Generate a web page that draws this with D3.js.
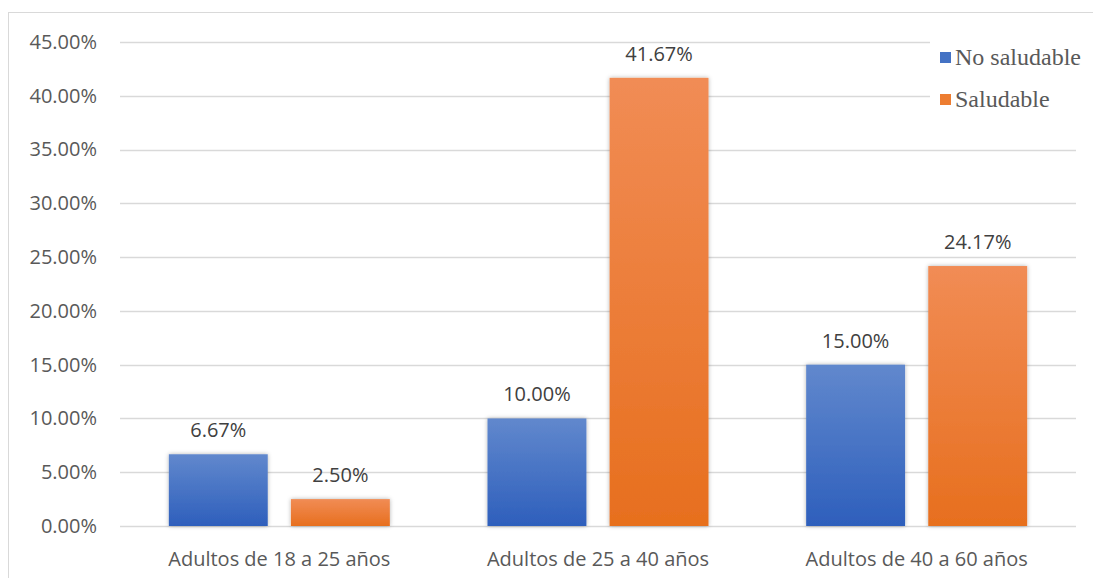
<!DOCTYPE html>
<html>
<head>
<meta charset="utf-8">
<script src="https://cdn.jsdelivr.net/npm/d3@7"></script>
<style>
  body { margin: 0; background: #fff; }
  svg { display: block; }
</style>
</head>
<body>
<svg id="chart" width="1093" height="578"></svg>
<script>
// chart data
var categories = ["Adultos de 18 a 25 años", "Adultos de 25 a 40 años", "Adultos de 40 a 60 años"];
var seriesNames = ["No saludable", "Saludable"];
var noSaludable = [6.67, 10.00, 15.00];
var saludable = [2.50, 41.67, 24.17];
var yTicks = [0, 5, 10, 15, 20, 25, 30, 35, 40, 45];

var svg = d3.select("#chart");
var plot = {left: 120, right: 1076, top: 42, bottom: 526};
var labelFont = "'Open Sans', sans-serif";

// outer frame of the chart area
svg.append("rect")
    .attr("x", 8.5).attr("y", 12.5)
    .attr("width", 1100).attr("height", 600)
    .attr("fill", "none").attr("stroke", "#d9d9d9").attr("stroke-width", 1);

var defs = svg.append("defs");
var gradBlue = defs.append("linearGradient").attr("id", "gBlue")
    .attr("x1", 0).attr("y1", 0).attr("x2", 0).attr("y2", 1);
gradBlue.append("stop").attr("offset", "0%").attr("stop-color", "#6188cd");
gradBlue.append("stop").attr("offset", "100%").attr("stop-color", "#2e5fbc");
var gradOrange = defs.append("linearGradient").attr("id", "gOrange")
    .attr("x1", 0).attr("y1", 0).attr("x2", 0).attr("y2", 1);
gradOrange.append("stop").attr("offset", "0%").attr("stop-color", "#f18c55");
gradOrange.append("stop").attr("offset", "100%").attr("stop-color", "#e76f1e");

var shadow = defs.append("filter").attr("id", "shadow")
    .attr("x", "-20%").attr("y", "-20%").attr("width", "140%").attr("height", "140%");
shadow.append("feDropShadow")
    .attr("dx", 0).attr("dy", 0).attr("stdDeviation", 2)
    .attr("flood-color", "#000").attr("flood-opacity", 0.3);

var y = d3.scaleLinear().domain([0, 45]).range([plot.bottom, plot.top]);
var x0 = d3.scaleBand().domain(categories).range([plot.left, plot.right]);
var x1 = d3.scaleBand().domain(seriesNames).range([0, x0.bandwidth()]).paddingInner(0.19).paddingOuter(0.40);

var fmt = function(v){ return d3.format(".2f")(v) + "%"; };

// gridlines
svg.append("g").selectAll("line")
    .data(yTicks)
    .join("line")
    .attr("x1", plot.left).attr("x2", plot.right)
    .attr("y1", function(d){ return Math.round(y(d)) + 0.5; })
    .attr("y2", function(d){ return Math.round(y(d)) + 0.5; })
    .attr("stroke", "#d9d9d9").attr("stroke-width", 1.3);

// y axis labels
var yAxis = d3.axisLeft(y).tickValues(yTicks).tickFormat(fmt).tickSize(0).tickPadding(0);
var yg = svg.append("g").attr("transform", "translate(97,0)").call(yAxis);
yg.select(".domain").remove();
yg.selectAll("text")
    .attr("fill", "#595959")
    .style("font-family", labelFont)
    .style("font-size", "20px");

// bars
var series = [
  {name: seriesNames[0], values: noSaludable, fill: "url(#gBlue)"},
  {name: seriesNames[1], values: saludable, fill: "url(#gOrange)"}
];

var groups = svg.append("g").selectAll("g")
    .data(categories)
    .join("g")
    .attr("transform", function(d){ return "translate(" + x0(d) + ",0)"; });

groups.selectAll("rect")
    .data(function(d, i){ return series.map(function(s){ return {s: s, v: s.values[i]}; }); })
    .join("rect")
    .attr("x", function(d){ return x1(d.s.name); })
    .attr("y", function(d){ return y(d.v); })
    .attr("width", x1.bandwidth())
    .attr("height", function(d){ return y(0) - y(d.v); })
    .attr("fill", function(d){ return d.s.fill; })
    .attr("filter", "url(#shadow)");

groups.selectAll("text.val")
    .data(function(d, i){ return series.map(function(s){ return {s: s, v: s.values[i]}; }); })
    .join("text")
    .attr("class", "val")
    .attr("x", function(d){ return x1(d.s.name) + x1.bandwidth() / 2; })
    .attr("y", function(d){ return y(d.v) - 17; })
    .attr("text-anchor", "middle")
    .attr("fill", "#404040")
    .style("font-family", labelFont)
    .style("font-size", "20px")
    .text(function(d){ return fmt(d.v); });

// category labels
var xAxis = d3.axisBottom(x0).tickSize(0).tickPadding(0);
var xg = svg.append("g").attr("transform", "translate(0,0)").call(xAxis);
xg.select(".domain").remove();
xg.selectAll("text")
    .attr("y", 566)
    .attr("dy", null)
    .attr("fill", "#595959")
    .style("font-family", labelFont)
    .style("font-size", "20px");

// legend
var legend = svg.append("g").attr("transform", "translate(930,36)");
legend.append("rect").attr("x", 0).attr("y", 0).attr("width", 160).attr("height", 84).attr("fill", "#fff");
var items = legend.selectAll("g")
    .data(series)
    .join("g")
    .attr("transform", function(d, i){ return "translate(10," + (21 + i * 42) + ")"; });
items.append("rect")
    .attr("x", 0).attr("y", -5).attr("width", 11).attr("height", 11)
    .attr("fill", function(d, i){ return i === 0 ? "#4472c4" : "#ed7d31"; });
items.append("text")
    .attr("x", 15).attr("y", 8)
    .attr("fill", "#595959")
    .style("font-family", "'Liberation Serif', 'Times New Roman', serif")
    .style("font-size", "24px")
    .text(function(d){ return d.name; });
</script>
</body>
</html>
